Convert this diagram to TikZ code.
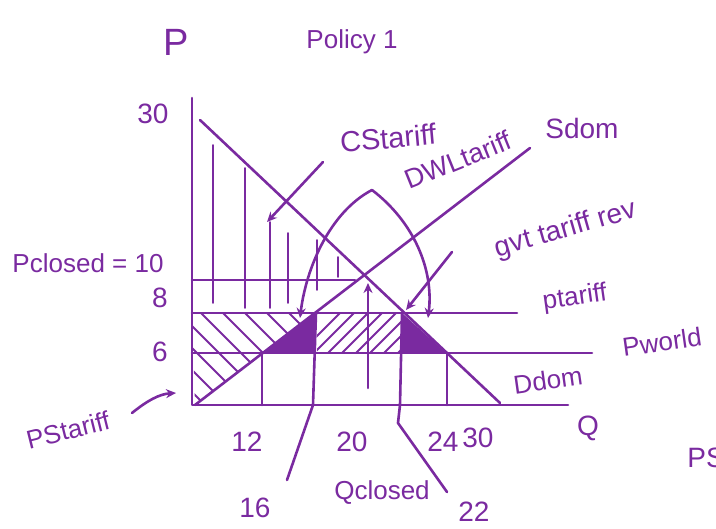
\documentclass[tikz,border=0pt]{standalone}
\usepackage{fontspec}
\setmainfont{Liberation Sans}
\usetikzlibrary{arrows.meta}
\definecolor{ink}{RGB}{122,42,160}
\begin{document}
\begin{tikzpicture}[x=1pt,y=-1pt,
  pen/.style={draw=ink,line width=2.6pt,line cap=round,line join=round},
  thinpen/.style={draw=ink,line width=1.8pt,line cap=round},
  arr/.style={pen,-{Stealth[length=10pt,width=9pt]}},
  lbl/.style={text=ink,inner sep=0pt,font=\fontsize{26}{28}\selectfont},
  num/.style={lbl,font=\fontsize{28}{30}\selectfont}]
\useasboundingbox (0,0) rectangle (716,529);

% key points
\coordinate (ytop) at (192,98);
\coordinate (O) at (192,405);
\coordinate (xend) at (568,405);
\coordinate (Dt) at (200,120);
\coordinate (Db) at (500,403);
\coordinate (Sb) at (195,405);
\coordinate (St) at (530,148);

% shaded areas
\begin{scope}
  \clip (192,313) -- (314,313) -- (195,405) -- cycle;
  \foreach \a in {100,122,...,320} \draw[thinpen] (\a,300) -- (\a+120,420);
\end{scope}
\begin{scope}
  \clip (317,313) rectangle (401,353);
  \foreach \b in {300,314,...,420} \draw[thinpen] (\b,353) -- (\b+40,313);
\end{scope}
\fill[ink] (262,353) -- (315,313) -- (315,353) -- cycle;
\fill[ink] (402,313) -- (446,353) -- (402,353) -- cycle;

% consumer surplus verticals
\foreach \x/\t/\b in {213/145/303, 245/168/308, 270/222/308, 288/233/303, 317/240/290, 338/257/277}
  \draw[thinpen] (\x,\t) -- (\x,\b);

% axes
\draw[pen] (ytop) -- (O) -- (xend);

% demand and supply
\draw[pen] (Dt) -- (Db);
\draw[pen] (Sb) -- (St);

% price lines
\draw[pen] (192,280) -- (355,280);
\draw[pen] (192,313) -- (517,313);
\draw[pen] (192,353) -- (592,353);

% quantity verticals
\draw[pen] (262,353) -- (262,405);
\draw[pen] (316,313) -- (313,405) -- (287,480);
\draw[pen] (402,313) -- (400,405) -- (398,423) -- (447,492);
\draw[pen] (447,353) -- (447,405);
\draw[arr] (368,388) -- (368,283);

% labels
\node[lbl,font=\fontsize{38}{40}\selectfont] (P) at (176,42) {P};
\node[lbl] (pol) at (352,42) {Policy 1};
\node[num] (p30) at (153,114) {30};
\node[lbl] (pcl) at (88,263) {Pclosed = 10};
\node[num] (p8) at (160,298) {8};
\node[num] (p6) at (160,352) {6};
\node[lbl,font=\fontsize{29}{30}\selectfont,rotate=5] (cs) at (388,138) {CStariff};
\node[lbl,font=\fontsize{27}{28}\selectfont,rotate=22] (dwl) at (458,160) {DWLtariff};
\node[lbl,font=\fontsize{28}{30}\selectfont] (sdom) at (582,128) {Sdom};
\node[lbl,font=\fontsize{28}{30}\selectfont,rotate=16] (gov) at (566,230) {gvt tariff rev};
\node[lbl,rotate=8] (pt) at (575,298) {ptariff};
\node[lbl,rotate=8] (pw) at (662,342) {Pworld};
\node[lbl,rotate=8] (dd) at (548,380) {Ddom};
\node[num] (q) at (588,428) {Q};
\node[num] (ps) at (706,458) {PS};
\node[lbl,rotate=14] (pst) at (68,430) {PStariff};
\node[num] (q12) at (247,442) {12};
\node[num] (q20) at (352,442) {20};
\node[num] (q24) at (443,442) {24};
\node[num] (q30) at (478,438) {30};
\node[num] (q16) at (255,508) {16};
\node[lbl] (qcl) at (382,493) {Qclosed};
\node[num] (q22) at (474,512) {22};

% pointers
\coordinate (csA) at (323,162);
\coordinate (csB) at (267,222);
\draw[arr] (csA) -- (csB);
\coordinate (dwlA) at (372,190);
\coordinate (dwlL) at (300,318);
\coordinate (dwlR) at (428,318);
\draw[arr] (dwlA) .. controls (330,212) and (306,268) .. (dwlL);
\draw[arr] (dwlA) .. controls (414,222) and (434,270) .. (dwlR);
\coordinate (govA) at (452,252);
\coordinate (govB) at (406,310);
\draw[arr] (govA) -- (govB);
\coordinate (psA) at (132,413);
\coordinate (psB) at (176,393);
\draw[arr] (psA) .. controls (148,400) and (160,394) .. (psB);
\end{tikzpicture}
\end{document}
